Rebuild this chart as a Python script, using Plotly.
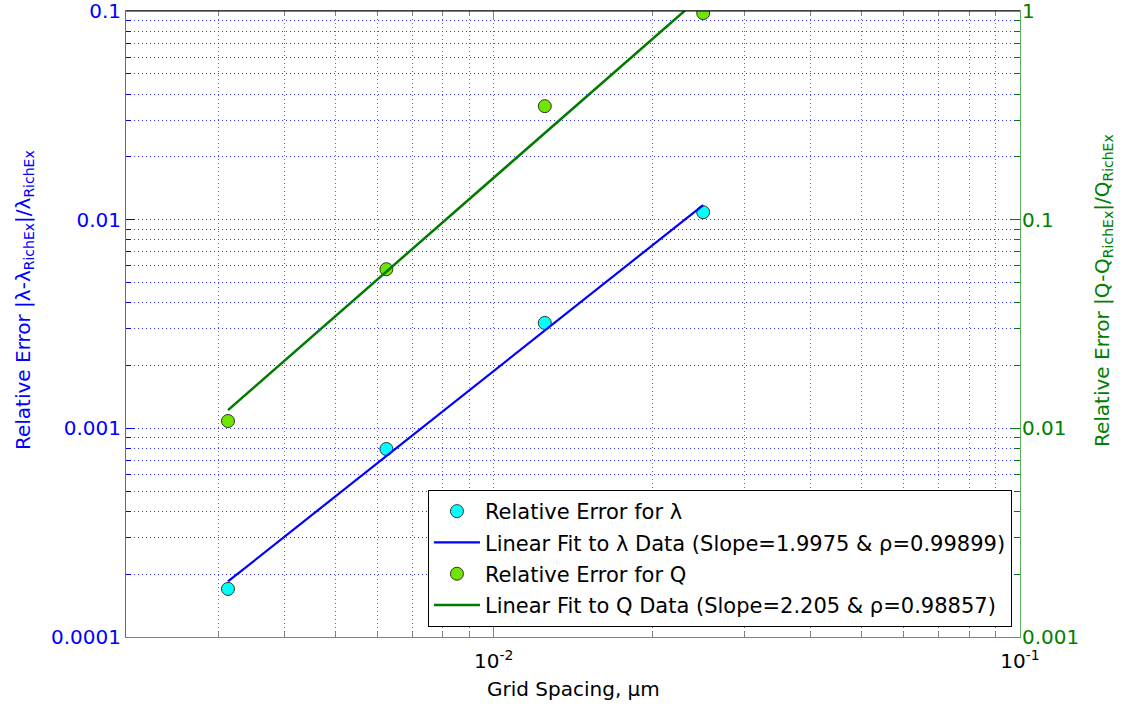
import numpy as np
import plotly.graph_objects as go

# Grid spacing (um) and relative errors against the Richardson extrapolate
grid_spacing = [0.003125, 0.00625, 0.0125, 0.025]
err_lambda = [1.70e-4, 7.96e-4, 3.20e-3, 1.086e-2]
err_q = [1.084e-2, 5.79e-2, 0.350, 0.977]

# Reported fit statistics
slope_lambda, rho_lambda = 1.9975, 0.99899
slope_q, rho_q = 2.205, 0.98857

x_ticks = [0.01, 0.1]
x_ticktext = ["10<sup>-2</sup>", "10<sup>-1</sup>"]
y1_ticks = [0.0001, 0.001, 0.01, 0.1]
y1_ticktext = ["0.0001", "0.001", "0.01", "0.1"]
y2_ticks = [0.001, 0.01, 0.1, 1]
y2_ticktext = ["0.001", "0.01", "0.1", "1"]

FONT = "DejaVu Sans"
BLUE = "#0000ff"
GREEN = "#008000"
EPS = 1e-5  # keeps the end-of-range ticks inside the range


def loglog_fit(x, y, slope):
    """Power-law fit line with the given slope through the log-mean point."""
    lx, ly = np.log10(x), np.log10(y)
    b = ly.mean() - slope * lx.mean()
    xs = np.array([min(x), max(x)])
    return xs, 10 ** (b + slope * np.log10(xs))


def minor_vals(e0, e1):
    return [k * 10.0 ** e for e in range(e0, e1) for k in range(2, 10)]


fx_l, fy_l = loglog_fit(grid_spacing, err_lambda, slope_lambda)
fx_q, fy_q = loglog_fit(grid_spacing, err_q, slope_q)

fig = go.Figure()
fig.add_trace(go.Scatter(
    x=grid_spacing, y=err_lambda, mode="markers", name="Relative Error for λ",
    legendgroup="a",
    marker=dict(size=13, color="#00ffff", line=dict(color="#333333", width=1)),
))
fig.add_trace(go.Scatter(
    x=fx_l, y=fy_l, mode="lines", legendgroup="b",
    name=f"Linear Fit to λ Data (Slope={slope_lambda} & ρ={rho_lambda})",
    line=dict(color=BLUE, width=2.2),
))
fig.add_trace(go.Scatter(
    x=grid_spacing, y=err_q, mode="markers", name="Relative Error for Q",
    legendgroup="c", yaxis="y2",
    marker=dict(size=13, color="#6ee600", line=dict(color="#333333", width=1)),
))
fig.add_trace(go.Scatter(
    x=fx_q, y=fy_q, mode="lines", legendgroup="d", yaxis="y2",
    name=f"Linear Fit to Q Data (Slope={slope_q} & ρ={rho_q})",
    line=dict(color="#007a00", width=2.5),
))

fig.update_layout(
    width=1139, height=706,
    margin=dict(l=126, r=119, t=11, b=69, autoexpand=False),
    paper_bgcolor="white", plot_bgcolor="white",
    font=dict(family=FONT, size=20, color="black"),
    showlegend=True,
    legend=dict(
        x=0.991, y=0.016, xanchor="right", yanchor="bottom",
        bgcolor="white", bordercolor="black", borderwidth=1,
        font=dict(family=FONT, size=21, color="black"),
        tracegroupgap=1, itemwidth=46,
    ),
    xaxis=dict(
        type="log", range=[np.log10(0.002), -1 + EPS], automargin=False,
        tickvals=x_ticks, ticktext=x_ticktext, ticklabeloverflow="allow",
        ticklabelstandoff=6,
        tickfont=dict(family=FONT, size=20, color="black"),
        ticks="inside", ticklen=9, tickcolor="#808080",
        showline=True, linecolor="#808080", linewidth=1, mirror="ticks",
        showgrid=True, gridcolor="#707070", gridwidth=1, griddash="1px,3px",
        minor=dict(tickvals=minor_vals(-3, -1), ticks="inside", ticklen=5,
                   tickcolor="#808080", showgrid=True, gridcolor="#707070",
                   gridwidth=1, griddash="1px,3px"),
        zeroline=False,
    ),
    yaxis=dict(
        type="log", range=[-4 - EPS, -1 + EPS], automargin=False,
        tickvals=y1_ticks, ticktext=y1_ticktext, ticklabeloverflow="allow",
        tickfont=dict(family=FONT, size=20, color=BLUE),
        ticks="inside", ticklen=9, tickcolor=BLUE,
        showline=True, linecolor="#5555ff", linewidth=1,
        showgrid=True, gridcolor="#3333ff", gridwidth=1, griddash="1px,3px",
        minor=dict(tickvals=minor_vals(-4, -1), ticks="inside", ticklen=5,
                   tickcolor=BLUE, showgrid=True, gridcolor="#3333ff",
                   gridwidth=1, griddash="1px,3px"),
        zeroline=False,
    ),
    yaxis2=dict(
        type="log", range=[-3 - EPS, 0 + EPS], overlaying="y", side="right",
        automargin=False,
        tickvals=y2_ticks, ticktext=y2_ticktext, ticklabeloverflow="allow",
        tickfont=dict(family=FONT, size=20, color=GREEN),
        ticks="inside", ticklen=9, tickcolor=GREEN,
        showline=True, linecolor="#60b060", linewidth=1,
        showgrid=False, ticklabelstandoff=-3,
        minor=dict(tickvals=minor_vals(-3, 0), ticks="inside", ticklen=5,
                   tickcolor=GREEN, showgrid=False),
        zeroline=False,
    ),
)

# Black top border of the axes box
fig.add_shape(type="line", xref="paper", yref="paper", x0=0, x1=1, y0=1, y1=1,
              line=dict(color="black", width=1))

# Axis titles
fig.add_annotation(
    text="Relative Error |λ-λ<sub>RichEx</sub>|/λ<sub>RichEx</sub>",
    xref="paper", yref="paper", x=(24 - 126) / 894, y=(637 - 300) / 626,
    xanchor="center", yanchor="middle", textangle=-90, showarrow=False,
    font=dict(family=FONT, size=20, color=BLUE),
)
fig.add_annotation(
    text="Relative Error |Q-Q<sub>RichEx</sub>|/Q<sub>RichEx</sub>",
    xref="paper", yref="paper", x=(1103 - 126) / 894, y=(637 - 291) / 626,
    xanchor="center", yanchor="middle", textangle=-90, showarrow=False,
    font=dict(family=FONT, size=20, color=GREEN),
)
fig.add_annotation(
    text="Grid Spacing, μm",
    xref="paper", yref="paper", x=0.5, y=(637 - 689) / 626,
    xanchor="center", yanchor="middle", showarrow=False,
    font=dict(family=FONT, size=20, color="black"),
)

fig.write_html("out.html")
